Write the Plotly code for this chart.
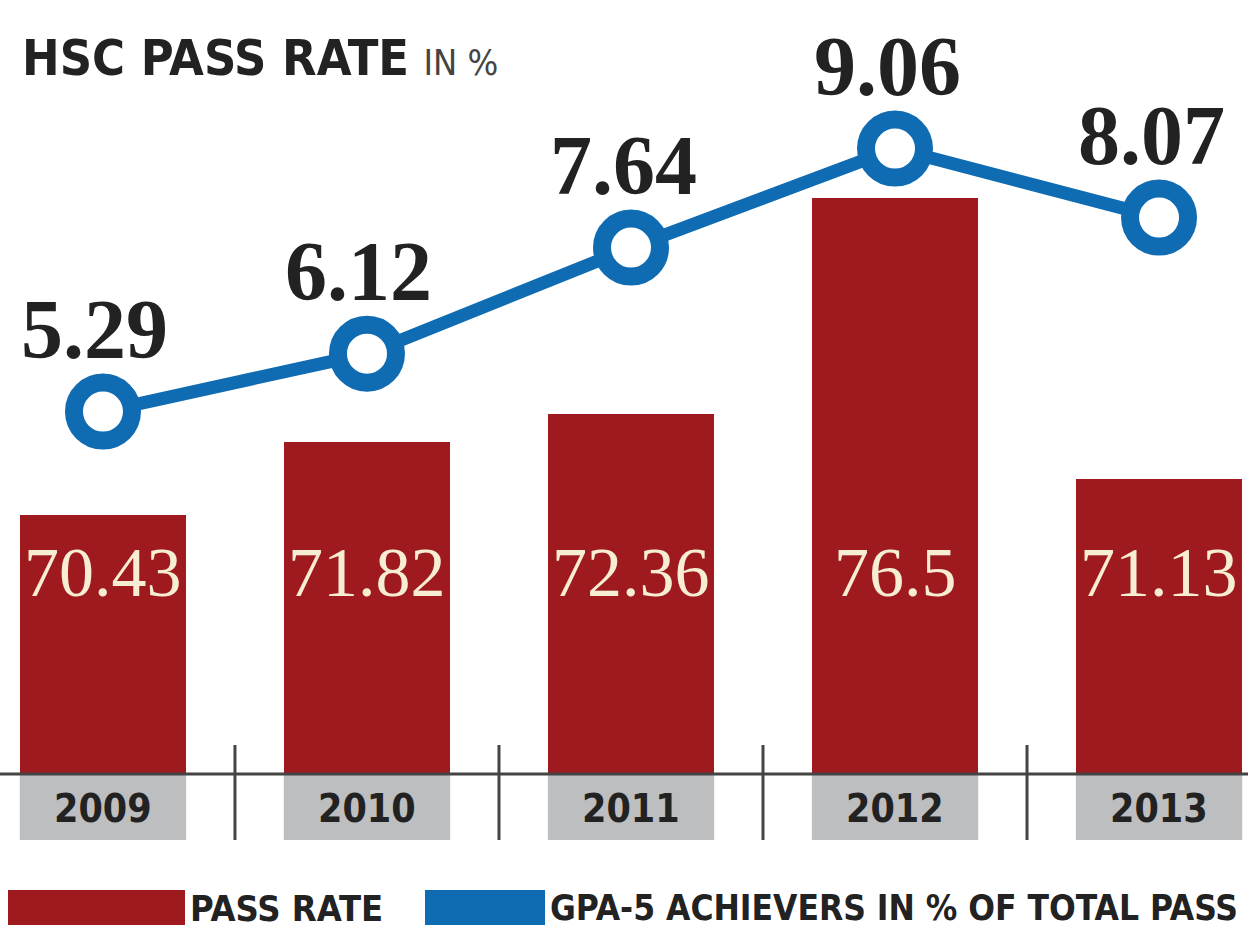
import plotly.graph_objects as go

years = ["2009", "2010", "2011", "2012", "2013"]
pass_rate = [70.43, 71.82, 72.36, 76.5, 71.13]
gpa5 = [5.29, 6.12, 7.64, 9.06, 8.07]
pass_labels = ["70.43", "71.82", "72.36", "76.5", "71.13"]
gpa_labels = ["5.29", "6.12", "7.64", "9.06", "8.07"]

RED = "#9E1A1F"
BLUE = "#0F6CB2"
GRAY = "#BDBEC0"
DARK = "#222222"
COND = "DejaVu Sans Condensed, Liberation Sans Narrow, Arial Narrow, sans-serif"
SERIF = "Liberation Serif, Times New Roman, serif"

xs = list(range(len(years)))
W, H = 1248, 935
T, B = 100, 161
plot_h = H - T - B


def py(pix):
    return (H - B - pix) / plot_h  # paper y from a pixel row


fig = go.Figure()
fig.add_trace(go.Bar(x=xs, y=pass_rate, marker=dict(color=RED, line=dict(width=0)),
                     width=0.63, name="PASS RATE", yaxis="y", showlegend=False))
fig.add_trace(go.Scatter(x=xs, y=gpa5, mode="lines+markers", yaxis="y2",
                         line=dict(color=BLUE, width=13),
                         marker=dict(size=58, color="white", line=dict(color=BLUE, width=18)),
                         name="GPA-5", showlegend=False, cliponaxis=False))

ann = []
for x, lab in zip(xs, pass_labels):
    ann.append(dict(x=x, y=py(572), xref="x", yref="paper", text=lab, showarrow=False,
                    font=dict(family=SERIF, size=70, color="#F6EDD2"), xanchor="center", yanchor="middle"))
for x, v, lab in zip(xs, gpa5, gpa_labels):
    ann.append(dict(x=x, y=v, xref="x", yref="y2", text="<b>" + lab + "</b>", showarrow=False,
                    yshift=82, xshift=-8,
                    font=dict(family=SERIF, size=84, color=DARK), xanchor="center", yanchor="middle"))
for x, yr in zip(xs, years):
    ann.append(dict(x=x, y=py(808), xref="x", yref="paper", text="<b>" + yr + "</b>", showarrow=False,
                    font=dict(family=COND, size=39, color=DARK), xanchor="center", yanchor="middle"))
ann.append(dict(x=20 / W, y=py(58), xref="paper", yref="paper", xanchor="left", yanchor="middle",
                showarrow=False,
                text="<b>HSC PASS RATE</b> <span style='font-size:36px;color:#444'>IN %</span>",
                font=dict(family=COND, size=50, color=DARK)))
ann.append(dict(x=188 / W, y=py(908), xref="paper", yref="paper", xanchor="left", yanchor="middle",
                showarrow=False, text="<b>PASS RATE</b>", font=dict(family=COND, size=36, color=DARK)))
ann.append(dict(x=548 / W, y=py(908), xref="paper", yref="paper", xanchor="left", yanchor="middle",
                showarrow=False, text="<b>GPA-5 ACHIEVERS IN % OF TOTAL PASS</b>",
                font=dict(family=COND, size=35, color=DARK)))

shapes = []
for x in xs:
    shapes.append(dict(type="rect", xref="x", yref="paper", x0=x - 0.315, x1=x + 0.315,
                       y0=py(840), y1=py(775), fillcolor=GRAY, line=dict(width=0), layer="below"))
for x in xs[:-1]:
    shapes.append(dict(type="line", xref="x", yref="paper", x0=x + 0.5, x1=x + 0.5,
                       y0=py(840), y1=py(745), line=dict(color="#444", width=3)))
shapes.append(dict(type="line", xref="paper", yref="paper", x0=0, x1=1, y0=py(774), y1=py(774),
                   line=dict(color="#444", width=3)))
shapes.append(dict(type="rect", xref="paper", yref="paper", x0=8 / W, x1=185 / W,
                   y0=py(925), y1=py(890), fillcolor=RED, line=dict(width=0)))
shapes.append(dict(type="rect", xref="paper", yref="paper", x0=425 / W, x1=545 / W,
                   y0=py(925), y1=py(890), fillcolor=BLUE, line=dict(width=0)))

fig.update_layout(
    width=W, height=H, margin=dict(l=0, r=0, t=T, b=B),
    paper_bgcolor="white", plot_bgcolor="white",
    xaxis=dict(range=[-0.39, 4.337], showticklabels=False, showgrid=False, zeroline=False,
               showline=False, ticks=""),
    yaxis=dict(range=[65.47, 78.38], visible=False, showgrid=False),
    yaxis2=dict(range=[0.095, 9.756], overlaying="y", visible=False, showgrid=False),
    annotations=ann, shapes=shapes, showlegend=False, bargap=0,
)
fig.write_html("out.html")
